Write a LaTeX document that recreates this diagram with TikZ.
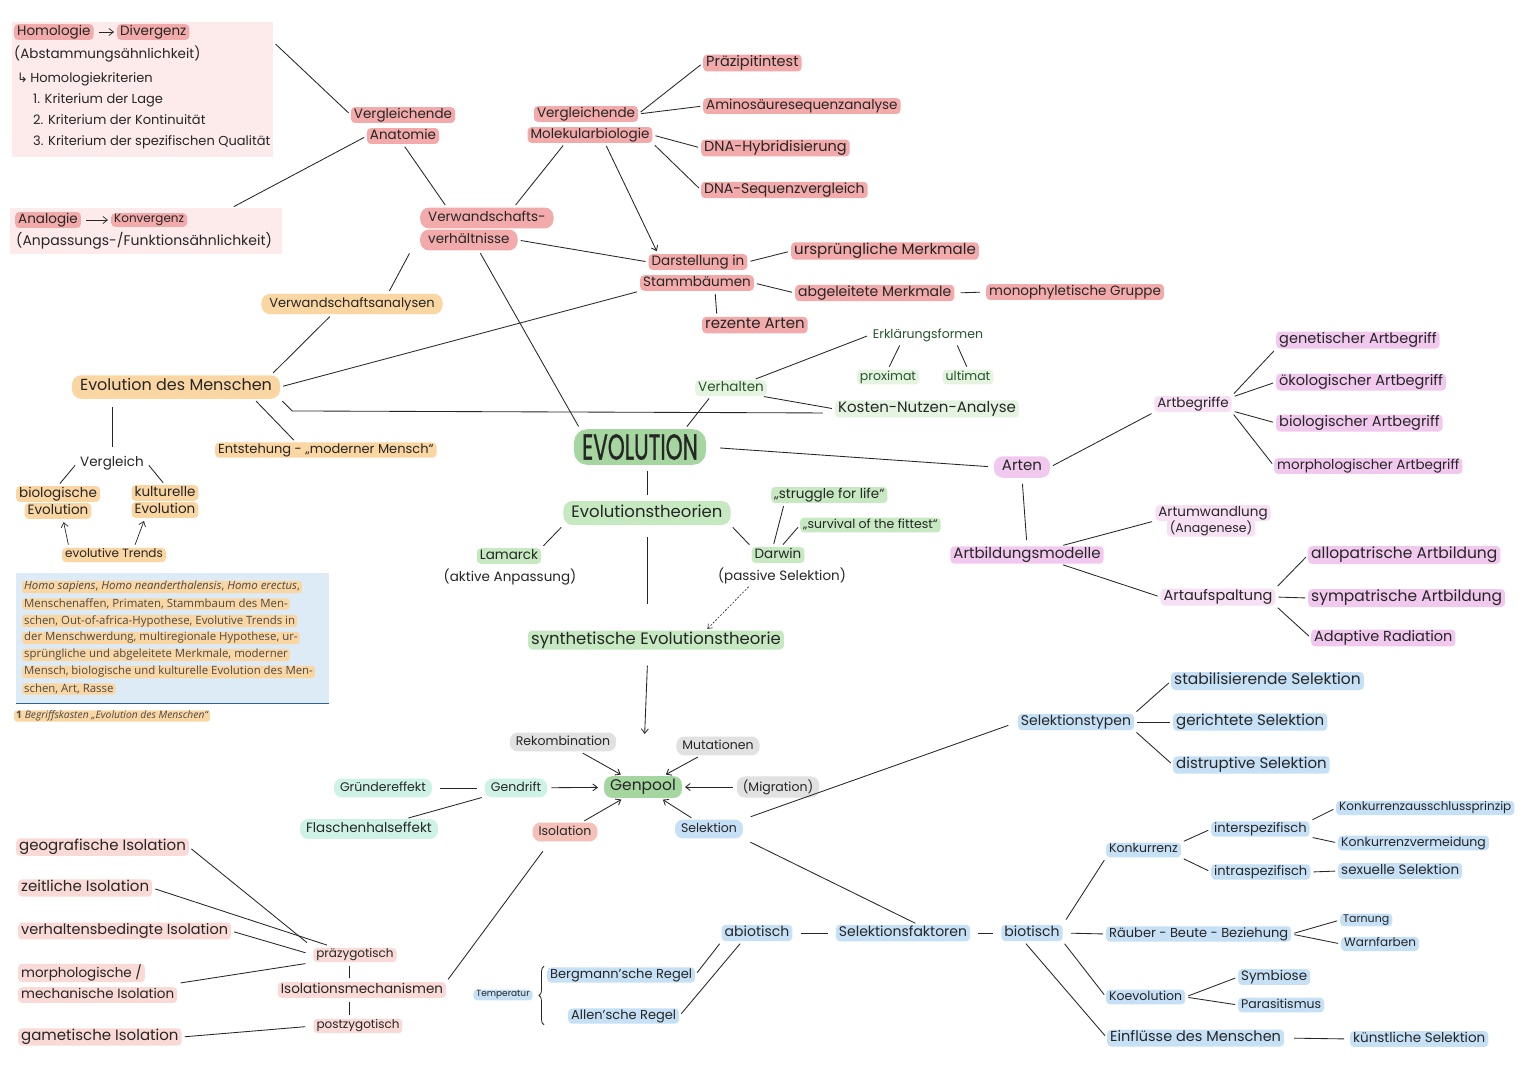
\documentclass[tikz,border=0pt]{standalone}
\usepackage{fontspec}
\setmainfont{Poppins}
\newfontfamily\boxfont{Open Sans}
\newfontfamily\dvfont{DejaVu Sans}
\newfontfamily\evofont[FakeBold=1.2]{Poppins}
\usetikzlibrary{arrows.meta,fit,decorations.pathreplacing}
\definecolor{ink}{HTML}{262626}
\definecolor{pkA}{HTML}{F3AAAA}
\definecolor{pkBg}{HTML}{FDEAEA}
\definecolor{peach}{HTML}{FAD6A3}
\definecolor{grD}{HTML}{A6D6A0}
\definecolor{grL}{HTML}{C6E9C2}
\definecolor{grXL}{HTML}{E4F4E1}
\definecolor{grTx}{HTML}{27532B}
\definecolor{puA}{HTML}{F2C9EE}
\definecolor{puL}{HTML}{F7DFF4}
\definecolor{blA}{HTML}{C6E0F6}
\definecolor{gyA}{HTML}{E1E1E1}
\definecolor{mnA}{HTML}{CFF2E7}
\definecolor{saA}{HTML}{F5C0B8}
\definecolor{saL}{HTML}{F9DAD6}
\definecolor{infoBg}{HTML}{DDEBF6}
\definecolor{infoLn}{HTML}{2F6593}
\definecolor{infoTx}{HTML}{4A4A4A}
\tikzset{
  lbl/.style={font=\fontsize{13.5}{16}\selectfont, text=ink, inner xsep=3pt, inner ysep=1pt, execute at begin node={\vphantom{Hg}}},
  fsz/.style={font=\fontsize{#1}{#1}\selectfont},
  pill/.style={lbl, fill=#1, rounded corners=4pt},
  bigpill/.style={inner xsep=8pt, inner ysep=3.5pt, rounded corners=9pt},
  soft/.style={inner xsep=6pt, inner ysep=3pt, rounded corners=8pt},
  gtx/.style={lbl, text=grTx, fill=grXL, rounded corners=4pt},
  grp/.style={fit=#1, inner sep=0pt},
  ln/.style={draw=ink, line width=0.85pt, shorten <=3pt, shorten >=3pt},
  ar/.style={ln, -{Straight Barb[length=4.5pt,width=7pt]}},
  dsharr/.style={draw=ink, line width=0.6pt, dash pattern=on 2pt off 1.5pt, -{Straight Barb[length=4pt,width=6pt]}, shorten <=2pt, shorten >=2pt},
  info/.style={font={\boxfont\fontsize{11.4}{12}\selectfont}, text=infoTx, fill=peach, rounded corners=3pt, inner xsep=2pt, inner ysep=0.5pt, anchor=west},
}
\begin{document}
\begin{tikzpicture}[x=1pt,y=-1pt, every node/.style={inner sep=0pt}]
\fill[white] (0,0) rectangle (1527,1080);
\useasboundingbox (0,0) rectangle (1527,1080);

% ---------- top-left boxes ----------
\node[fill=pkBg, anchor=north west, minimum width=261pt, minimum height=135pt] (hbox) at (12,22) {};
\node[pill=pkA, anchor=west] (hom) at (14,32) {Homologie};
\node[pill=pkA, anchor=west] (div) at (117,32) {Divergenz};
\draw[ar, line width=0.7pt, shorten <=5pt, shorten >=3pt] (hom) -- (div);
\node[lbl, anchor=west] (abst) at (11,54) {(Abstammungsähnlichkeit)};
\node[lbl, fsz=13, anchor=west] (hkr) at (14,79) {{\dvfont ↳}\,Homologiekriterien};
\node[lbl, fsz=13, anchor=west] (k1) at (30,100) {1. Kriterium der Lage};
\node[lbl, fsz=13, anchor=west] (k2) at (30,121) {2. Kriterium der Kontinuität};
\node[lbl, fsz=13, anchor=west] (k3) at (30,142) {3. Kriterium der spezifischen Qualität};

\node[fill=pkBg, anchor=north west, minimum width=272pt, minimum height=46pt] (abox) at (10,208) {};
\node[pill=pkA, anchor=west] (ana) at (15,220) {Analogie};
\node[pill=pkA, fsz=12, anchor=west] (konv) at (111,220) {Konvergenz};
\draw[ar, line width=0.7pt, shorten <=5pt, shorten >=3pt] (ana) -- (konv);
\node[lbl, fsz=14, anchor=west] (anp) at (13,241) {(Anpassungs-/Funktionsähnlichkeit)};

% ---------- red cluster ----------
\node[pill=pkA] (va1) at (403,115) {Vergleichende};
\node[pill=pkA] (va2) at (403,136) {Anatomie};
\node[grp={(va1)(va2)}] (va) {};
\node[pill=pkA] (vm1) at (586,114) {Vergleichende};
\node[pill=pkA] (vm2) at (590,135) {Molekularbiologie};
\node[grp={(vm1)(vm2)}] (vm) {};
\node[pill=pkA, fsz=14.5, anchor=west] (praez) at (703,63) {Präzipitintest};
\node[pill=pkA, anchor=west] (amino) at (703,106) {Aminosäuresequenzanalyse};
\node[pill=pkA, fsz=14.5, anchor=west] (hyb) at (701,148) {DNA-Hybridisierung};
\node[pill=pkA, fsz=14, anchor=west] (seq) at (701,190) {DNA-Sequenzvergleich};
\node[pill=pkA, bigpill, anchor=west] (vw1) at (420,218) {Verwandschafts-};
\node[pill=pkA, bigpill, anchor=west] (vw2) at (420,240) {verhältnisse};
\node[grp={(vw1)(vw2)}] (vw) {};
\node[pill=pkA] (ds1) at (698,262) {Darstellung in};
\node[pill=pkA] (ds2) at (697,283) {Stammbäumen};
\node[grp={(ds1)(ds2)}] (ds) {};
\node[pill=pkA, fsz=15, anchor=west] (urspr) at (791,251) {ursprüngliche Merkmale};
\node[pill=pkA, fsz=14, anchor=west] (abgel) at (795,293) {abgeleitete Merkmale};
\node[pill=pkA, fsz=13.5, anchor=west] (mono) at (986,292) {monophyletische Gruppe};
\node[pill=pkA, fsz=15, anchor=west] (rez) at (702,325) {rezente Arten};

% ---------- peach cluster ----------
\node[pill=peach, bigpill, fsz=13] (vwa) at (352,304) {Verwandschaftsanalysen};
\node[pill=peach, bigpill, fsz=16] (edm) at (176,387) {Evolution des Menschen};
\node[pill=peach, fsz=13, anchor=west] (ent) at (215,450) {Entstehung - „moderner Mensch“};
\node[lbl] (vgl) at (112,463) {Vergleich};
\node[pill=peach] (bio1) at (58,494) {biologische};
\node[pill=peach] (bio2) at (58,511) {Evolution};
\node[grp={(bio1)(bio2)}] (bio) {};
\node[pill=peach] (kul1) at (165,493) {kulturelle};
\node[pill=peach] (kul2) at (165,510) {Evolution};
\node[grp={(kul1)(kul2)}] (kul) {};
\node[pill=peach, fsz=12] (trend) at (114,555) {evolutive Trends};

% ---------- info box ----------
\node[fill=infoBg, anchor=north west, minimum width=313pt, minimum height=130pt] (ibox) at (16,573) {};
\draw[infoLn, line width=1.6pt] (ibox.south west) -- (ibox.south east);
\node[info] (i1) at (22,587) {\textit{Homo sapiens}, \textit{Homo neanderthalensis}, \textit{Homo erectus},};
\node[info] (i2) at (22,604) {Menschenaffen, Primaten, Stammbaum des Men-};
\node[info] (i3) at (22,621) {schen, Out-of-africa-Hypothese, Evolutive Trends in};
\node[info] (i4) at (22,638) {der Menschwerdung, multiregionale Hypothese, ur-};
\node[info] (i5) at (22,655) {sprüngliche und abgeleitete Merkmale, moderner};
\node[info] (i6) at (22,672) {Mensch, biologische und kulturelle Evolution des Men-};
\node[info] (i7) at (22,689) {schen, Art, Rasse};
\node[info, font={\boxfont\itshape\fontsize{10.3}{11}\selectfont}] (cap) at (14,716) {\textbf{\upshape 1} Begriffskasten „Evolution des Menschen“};

% ---------- center ----------
\node[fill=grD, rounded corners=13pt, inner xsep=8pt, inner ysep=5pt, text=ink] (evo) at (640,447) {\scalebox{0.6}[1]{\evofont\fontsize{36}{36}\selectfont EVOLUTION}};
\node[gtx] (verh) at (731,388) {Verhalten};
\node[gtx, fsz=12.5, fill=none] (erk) at (928,335) {Erklärungsformen};
\node[gtx, fsz=12.5] (prox) at (888,377) {proximat};
\node[gtx, fsz=12.5] (ult) at (968,377) {ultimat};
\node[gtx, fsz=15, text=ink] (kna) at (927,409) {Kosten-Nutzen-Analyse};

\node[pill=grL, bigpill, fsz=16.5] (et) at (647,513) {Evolutionstheorien};
\node[pill=grL] (lam) at (509,556) {Lamarck};
\node[lbl] (lamt) at (510,577) {(aktive Anpassung)};
\node[pill=grL] (dar) at (778,555) {Darwin};
\node[lbl] (dart) at (782,576) {(passive Selektion)};
\node[pill=grL, fsz=13.5, anchor=west] (str) at (771,495) {„struggle for life“};
\node[pill=grL, fsz=12.5, anchor=west] (surv) at (800,525) {„survival of the fittest“};
\node[pill=grL, fsz=16.5] (syn) at (656,640) {synthetische Evolutionstheorie};

% ---------- purple cluster ----------
\node[pill=puA, bigpill, fsz=15] (art) at (1022,467) {Arten};
\node[pill=puL] (abg) at (1193,404) {Artbegriffe};
\node[pill=puA, fsz=14.5, anchor=west] (gen) at (1276,340) {genetischer Artbegriff};
\node[pill=puA, fsz=14.5, anchor=west] (oek) at (1276,382) {ökologischer Artbegriff};
\node[pill=puA, fsz=14.5, anchor=west] (bioA) at (1276,423) {biologischer Artbegriff};
\node[pill=puA, anchor=west] (mor) at (1274,466) {morphologischer Artbegriff};
\node[pill=puA, fsz=15] (abm) at (1027,555) {Artbildungsmodelle};
\node[pill=puL] (aum1) at (1213,513) {Artumwandlung};
\node[pill=puL, fsz=12.5] (aum2) at (1211,528) {(Anagenese)};
\node[grp={(aum1)(aum2)}] (aum) {};
\node[pill=puL, fsz=14.5] (aufs) at (1218,597) {Artaufspaltung};
\node[pill=puA, fsz=15.5, anchor=west] (allo) at (1308,555) {allopatrische Artbildung};
\node[pill=puA, fsz=15.5, anchor=west] (sym) at (1308,598) {sympatrische Artbildung};
\node[pill=puA, fsz=14.5, anchor=west] (adr) at (1311,638) {Adaptive Radiation};

% ---------- genpool ----------
\node[pill=grD, fsz=15.5, soft] (gp) at (643,787) {Genpool};
\node[pill=gyA, fsz=12.5, soft] (rek) at (563,742) {Rekombination};
\node[pill=gyA, fsz=12.5, soft] (mut) at (718,746) {Mutationen};
\node[pill=gyA, fsz=12.5, soft] (mig) at (778,787) {(Migration)};
\node[pill=mnA, fsz=12.5, soft] (gd) at (516,788) {Gendrift};
\node[pill=mnA, fsz=12.5, soft] (gr) at (383,788) {Gründereffekt};
\node[pill=mnA, fsz=13.5, soft] (fl) at (369,829) {Flaschenhalseffekt};
\node[pill=saA, fsz=12.5, soft] (iso) at (565,832) {Isolation};
\node[pill=blA, fsz=12.5, soft] (sel) at (709,829) {Selektion};

% ---------- blue cluster ----------
\node[pill=blA, fsz=14] (st) at (1076,722) {Selektionstypen};
\node[pill=blA, fsz=15.5, anchor=west] (stab) at (1171,681) {stabilisierende Selektion};
\node[pill=blA, fsz=15, anchor=west] (ger) at (1173,722) {gerichtete Selektion};
\node[pill=blA, fsz=15, anchor=west] (dis) at (1173,765) {distruptive Selektion};
\node[pill=blA, fsz=14] (sf) at (903,933) {Selektionsfaktoren};
\node[pill=blA, fsz=14] (abio) at (757,933) {abiotisch};
\node[pill=blA, fsz=14] (biot) at (1032,933) {biotisch};
\node[pill=blA, fsz=9] (temp) at (503,995) {Temperatur};
\node[pill=blA, fsz=13, anchor=west] (berg) at (547,975) {Bergmann'sche Regel};
\node[pill=blA, fsz=13, anchor=west] (allen) at (568,1016) {Allen'sche Regel};
\draw[ink, line width=0.8pt, decorate, decoration={brace, amplitude=5pt}] ([xshift=-3pt,yshift=-1pt]berg.west |- allen.south) -- ([xshift=-3pt,yshift=1pt]berg.north west);
\node[pill=blA, fsz=12.5, anchor=west] (konk) at (1106,850) {Konkurrenz};
\node[pill=blA, fsz=13, anchor=west] (inter) at (1211,829) {interspezifisch};
\node[pill=blA, fsz=13, anchor=west] (intra) at (1211,872) {intraspezifisch};
\node[pill=blA, fsz=12, anchor=west] (kap) at (1336,808) {Konkurrenzausschlussprinzip};
\node[pill=blA, fsz=12.5, anchor=west] (kv) at (1338,843) {Konkurrenzvermeidung};
\node[pill=blA, fsz=13.5, anchor=west] (sex) at (1338,871) {sexuelle Selektion};
\node[pill=blA, fsz=13, anchor=west] (rbb) at (1106,934) {Räuber - Beute - Beziehung};
\node[pill=blA, fsz=11, anchor=west] (tarn) at (1340,920) {Tarnung};
\node[pill=blA, fsz=12, anchor=west] (warn) at (1341,944) {Warnfarben};
\node[pill=blA, fsz=12.5, anchor=west] (koev) at (1106,997) {Koevolution};
\node[pill=blA, fsz=13.5, anchor=west] (symb) at (1238,977) {Symbiose};
\node[pill=blA, fsz=12.5, anchor=west] (para) at (1238,1005) {Parasitismus};
\node[pill=blA, fsz=14.5, anchor=west] (einf) at (1107,1038) {Einflüsse des Menschen};
\node[pill=blA, fsz=13.5, anchor=west] (kuen) at (1350,1039) {künstliche Selektion};

% ---------- isolation ----------
\node[pill=saL, fsz=13.5] (im) at (362,990) {Isolationsmechanismen};
\node[pill=saL, fsz=12] (prae) at (355,955) {präzygotisch};
\node[pill=saL, fsz=12] (post) at (358,1026) {postzygotisch};
\node[pill=saL, fsz=15, anchor=west] (geo) at (16,847) {geografische Isolation};
\node[pill=saL, fsz=15, anchor=west] (zeit) at (18,888) {zeitliche Isolation};
\node[pill=saL, fsz=14.5, anchor=west] (vb) at (18,931) {verhaltensbedingte Isolation};
\node[pill=saL, anchor=west] (mo1) at (18,973) {morphologische /};
\node[pill=saL, anchor=west] (mo2) at (18,995) {mechanische Isolation};
\node[grp={(mo1)(mo2)}] (mo) {};
\node[pill=saL, fsz=15, anchor=west] (gam) at (18,1037) {gametische Isolation};

% ---------- connectors ----------
\draw[ln] ([yshift=-20pt]hbox.north east) -- (va1.west);
\draw[ln] (va2.west) -- ([xshift=85pt]abox.north);
\draw[ln] (va2.south) -- ([xshift=-40pt]vw1.north);
\draw[ln] ([xshift=-25pt]vm2.south) -- ([xshift=-40pt]vw1.north east);
\draw[ar] ([xshift=15pt]vm2.south) -- ([xshift=-40pt]ds1.north);
\draw[ln] (vm1.east) -- (praez.west);
\draw[ln] (vm1.east) -- (amino.west);
\draw[ln] (vm2.east) -- (hyb.west);
\draw[ln] (vm2.south east) -- (seq.west);
\draw[ln] (vw2.east) -- (ds1.west);
\draw[ln] ([xshift=-58pt]vw2.south) -- ([xshift=36pt]vwa.north);
\draw[ln] ([xshift=10pt]vw2.south) -- ([xshift=-60pt]evo.north);
\draw[ln] (ds2.south west) -- (edm.east);
\draw[ln] (ds1.east) -- (urspr.west);
\draw[ln] (ds2.east) -- (abgel.west);
\draw[ln, shorten <=6pt, shorten >=6pt] (abgel.east) -- (mono.west);
\draw[ln] ([xshift=18pt]ds2.south) -- ([xshift=-38pt]rez.north);
\draw[ln] ([xshift=-20pt]vwa.south) -- ([xshift=95pt]edm.north);
\draw[ln, shorten >=12pt] (edm.south east) -- ++(12,12) -- ([yshift=-4pt]kna.west);
\draw[ln] ([xshift=78pt]edm.south) -- ([xshift=-30pt]ent.north);
\draw[ln, shorten <=8pt, shorten >=8pt] (edm.south -| vgl) -- (vgl.north);
\draw[ln] (vgl.west) -- (bio1.north);
\draw[ln] (vgl.east) -- (kul1.north);
\draw[ar, line width=0.7pt] ([xshift=-45pt]trend.north) -- ([xshift=5pt]bio2.south);
\draw[ar, line width=0.7pt] ([xshift=20pt]trend.north) -- ([xshift=-20pt]kul2.south);

\draw[ln] ([xshift=45pt]evo.north) -- ([xshift=-20pt]verh.south);
\draw[ln] (verh.20) -- (erk.west);
\draw[ln] (verh.-15) -- (kna.west);
\draw[ln] ([xshift=-27pt]erk.south) -- (prox.north);
\draw[ln] ([xshift=28pt]erk.south) -- (ult.north);
\draw[ln, shorten <=14pt, shorten >=6pt] (evo.east) -- (art.west);
\draw[ln, shorten <=6pt, shorten >=6pt] (et.north |- evo.south) -- (et.north);
\draw[ln] (et.south west) -- (lam.north east);
\draw[ln] (et.south east) -- (dar.north west);
\draw[ln, shorten <=12pt, shorten >=26pt] (et.south) -- (et.south |- syn.north);
\draw[ln] ([xshift=-5pt]dar.north) -- ([xshift=-45pt]str.south);
\draw[ln] ([xshift=3pt]dar.north) -- (surv.west);
\draw[dsharr] ([xshift=-32pt]dart.south) -- ([xshift=50pt]syn.north);
\draw[ar, shorten <=16pt, shorten >=42pt] ([xshift=-8pt]syn.south) -- (gp.north);

\draw[ln] (art.east) -- (abg.south west);
\draw[ln, shorten <=6pt, shorten >=6pt] (art.south) -- (abm.north);
\draw[ln] (abg.north east) -- (gen.south west);
\draw[ln] (abg.10) -- (oek.west);
\draw[ln] (abg.-10) -- (bioA.west);
\draw[ln] (abg.south east) -- (mor.west);
\draw[ln] (abm.15) -- (aum.west);
\draw[ln] (abm.-15) -- (aufs.west);
\draw[ln] (aufs.north east) -- (allo.west);
\draw[ln] (aufs.east) -- (sym.west);
\draw[ln] (aufs.south east) -- (adr.west);

\draw[ar] (rek) -- (gp);
\draw[ar] (mut) -- (gp);
\draw[ar, shorten <=4pt] (mig) -- (gp);
\draw[ar, shorten <=4pt, shorten >=6pt] (gd) -- (gp);
\draw[ln, shorten <=8pt, shorten >=8pt] (gr) -- (gd);
\draw[ln] (fl) -- (gd);
\draw[ar] (iso) -- (gp);
\draw[ar] (sel) -- (gp);
\draw[ln, shorten <=8pt, shorten >=10pt] (sel.north east) -- (st.west);
\draw[ln, shorten <=8pt] (sel.south east) -- ([xshift=15pt]sf.north);
\draw[ln, shorten <=12pt] ([xshift=-15pt]iso.south) -- (im.north east);

\draw[ln] (st.north east) -- (stab.west);
\draw[ln] (st.east) -- (ger.west);
\draw[ln] (st.south east) -- (dis.west);
\draw[ln, shorten <=8pt, shorten >=8pt] (abio.east) -- (sf.west);
\draw[ln, shorten <=8pt, shorten >=8pt] (sf.east) -- (biot.west);
\draw[ln] (abio.south west) -- (berg.east);
\draw[ln] ([xshift=-15pt]abio.south) -- (allen.east);
\draw[ln, shorten <=6pt] (biot.north east) -- (konk.south west);
\draw[ln, shorten <=8pt] (biot.east) -- (rbb.west);
\draw[ln] (biot.south east) -- (koev.west);
\draw[ln] ([xshift=-8pt]biot.south) -- (einf.west);
\draw[ln] (konk.north east) -- (inter.west);
\draw[ln] (konk.south east) -- (intra.west);
\draw[ln] (inter.north east) -- (kap.west);
\draw[ln] (inter.south east) -- (kv.west);
\draw[ln] (intra.east) -- (sex.west);
\draw[ln] (rbb.east) -- (tarn.west);
\draw[ln] (rbb.east) -- (warn.west);
\draw[ln] (koev.east) -- (symb.west);
\draw[ln] (koev.east) -- (para.west);
\draw[ln, shorten <=10pt, shorten >=6pt] (einf.east) -- (kuen.west);

\draw[ln, shorten <=8pt] (prae.north west) -- (geo.east);
\draw[ln, shorten <=8pt] (prae.160) -- (zeit.east);
\draw[ln, shorten <=8pt] (prae.west) -- (vb.east);
\draw[ln, shorten <=8pt] (prae.south west) -- (mo.east);
\draw[ln, shorten <=8pt] (post.west) -- (gam.east);
\draw[ln, line width=0.7pt, shorten <=4pt, shorten >=4pt] ([xshift=-6pt]prae.south) -- ([xshift=-6pt]prae.south |- im.north);
\draw[ln, line width=0.7pt, shorten <=4pt, shorten >=4pt] ([xshift=-13pt]im.south) -- ([xshift=-13pt]im.south |- post.north);
\end{tikzpicture}
\end{document}
